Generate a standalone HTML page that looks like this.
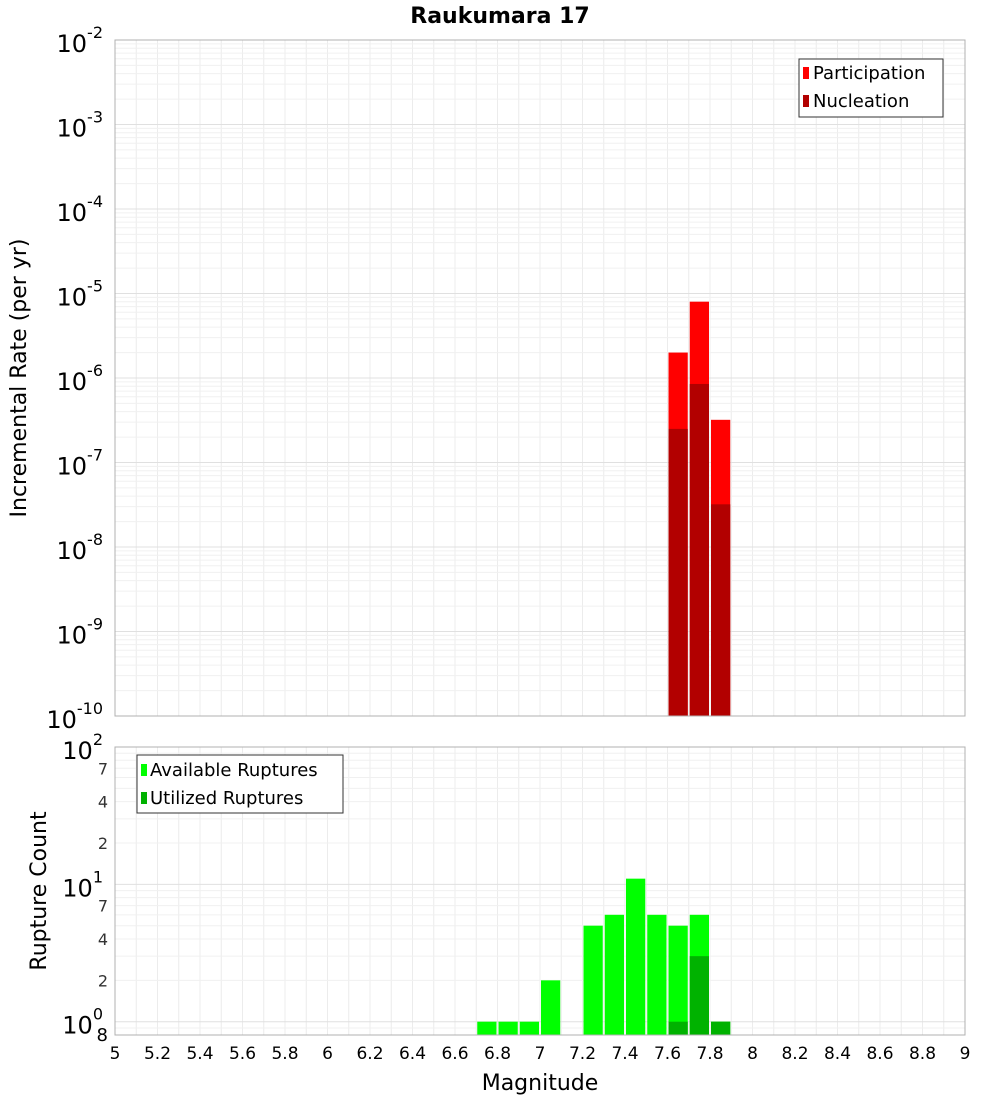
<!DOCTYPE html>
<html><head><meta charset="utf-8"><style>
body{margin:0;background:#fff;width:1000px;height:1100px;overflow:hidden}
svg text{font-family:"DejaVu Sans","Liberation Sans",sans-serif}
</style></head><body>
<svg id="c" width="1000" height="1100"></svg>
<script>
const topCats=[7.65,7.75,7.85];
const participation=[2e-6,8e-6,3.2e-7];
const nucleation=[2.5e-7,8.5e-7,3.2e-8];
const botCats=[6.75,6.85,6.95,7.05,7.25,7.35,7.45,7.55,7.65,7.75,7.85];
const available=[1,1,1,2,5,6,11,6,5,6,1];
const utilCats=[7.65,7.75,7.85];
const utilized=[1,3,1];
const xTicks=["5","5.2","5.4","5.6","5.8","6","6.2","6.4","6.6","6.8","7","7.2","7.4","7.6","7.8","8","8.2","8.4","8.6","8.8","9"];
const topExps=[-10,-9,-8,-7,-6,-5,-4,-3,-2];
const botMinor=[2,4,7];

const NS="http://www.w3.org/2000/svg",svg=document.getElementById('c');
function el(t,a,p){const e=document.createElementNS(NS,t);for(const k in a)e.setAttribute(k,a[k]);(p||svg).appendChild(e);return e;}
const X0=115,X1=965;
const x=v=>X0+(v-5)/4*(X1-X0);
const T0=40,T1=716;
const yT=v=>T1-(Math.log10(v)+10)/8*(T1-T0);
const B0=747,B1=1035;
const bLo=Math.log10(0.8),bHi=2;
const yB=v=>B1-(Math.log10(v)-bLo)/(bHi-bLo)*(B1-B0);

// grids
const gT=el('g',{});
const gB=el('g',{});
for(let i=0;i<=40;i++){const xv=x(5+i*0.1);
 el('line',{x1:xv,x2:xv,y1:T0,y2:T1,stroke:'#ececec','stroke-width':1},gT);
 el('line',{x1:xv,x2:xv,y1:B0,y2:B1,stroke:'#ececec','stroke-width':1},gB);}
for(let e=-10;e<-2;e++)for(let m=1;m<10;m++){const yv=yT(m*Math.pow(10,e));
 el('line',{x1:X0,x2:X1,y1:yv,y2:yv,stroke:m==1?'#e0e0e0':'#f0f0f0','stroke-width':1},gT);}
for(let e=-1;e<2;e++)for(let m=1;m<10;m++){const v=m*Math.pow(10,e);if(v<0.8)continue;const yv=yB(v);
 el('line',{x1:X0,x2:X1,y1:yv,y2:yv,stroke:m==1?'#e0e0e0':'#f0f0f0','stroke-width':1},gB);}

// bars
const bw=x(5.1)-x(5)-2;
topCats.forEach((c,i)=>{
 const r=el('rect',{x:x(c-0.05)+1,y:yT(participation[i]),width:bw,height:T1-yT(participation[i]),fill:'#ff0000'});
 
 const n=el('rect',{x:x(c-0.05)+1,y:yT(nucleation[i]),width:bw,height:T1-yT(nucleation[i]),fill:'#b20000'});
 
});
botCats.forEach((c,i)=>{
 const r=el('rect',{x:x(c-0.05)+1,y:yB(available[i]),width:bw,height:B1-yB(available[i]),fill:'#00ff00'});
 
});
utilCats.forEach((c,i)=>{
 const r=el('rect',{x:x(c-0.05)+1,y:yB(utilized[i]),width:bw,height:B1-yB(utilized[i]),fill:'#00b200'});
 
});
// frames
el('rect',{x:X0,y:T0,width:X1-X0,height:T1-T0,fill:'none',stroke:'#b0b0b0'});
el('rect',{x:X0,y:B0,width:X1-X0,height:B1-B0,fill:'none',stroke:'#b0b0b0'});

// top y ticks
topExps.forEach(e=>{const yv=yT(Math.pow(10,e));
 const t=el('text',{x:103,y:yv+12,'text-anchor':'end','font-size':24,fill:'#000'});
 
 t.textContent='10';
 const s=el('tspan',{dy:-14,'font-size':16},t);s.textContent=String(e);});
// bottom y ticks
[0,1,2].forEach(e=>{const yv=yB(Math.pow(10,e));
 const t=el('text',{x:103,y:yv+12,'text-anchor':'end','font-size':24,fill:'#000'});
 
 t.textContent='10';
 const s=el('tspan',{dy:-14,'font-size':16},t);s.textContent=String(e);});
[0,1].forEach(e=>botMinor.forEach(m=>{const yv=yB(m*Math.pow(10,e));
 const t=el('text',{x:108,y:yv+6,'text-anchor':'end','font-size':16,fill:'#333'});
 
 t.textContent=String(m);}));
{const t=el('text',{x:108,y:1041,'text-anchor':'end','font-size':18,fill:'#000'});
 t.textContent='8';}
// x ticks
xTicks.forEach(s=>{const t=el('text',{x:x(parseFloat(s)),y:1059,'text-anchor':'middle','font-size':17,fill:'#000'});
 t.textContent=s;});
</script>
<svg width="1000" height="1100" style="position:absolute;left:0;top:0">
<text x="500" y="23" text-anchor="middle" font-size="22" font-weight="bold">Raukumara 17</text>
<text x="540" y="1090" text-anchor="middle" font-size="22">Magnitude</text>
<text transform="translate(26,378) rotate(-90)" text-anchor="middle" font-size="22">Incremental Rate (per yr)</text>
<text transform="translate(46,891) rotate(-90)" text-anchor="middle" font-size="22">Rupture Count</text>
<g>
<rect x="799" y="59" width="144" height="58" fill="#fff" stroke="#333"/>
<rect x="803" y="67" width="6" height="12" fill="#ff0000"/>
<text x="813" y="79" font-size="18">Participation</text>
<rect x="803" y="95" width="6" height="12" fill="#b20000"/>
<text x="813" y="107" font-size="18">Nucleation</text>
</g>
<g>
<rect x="137" y="755" width="206" height="58" fill="#fff" stroke="#333"/>
<rect x="141" y="764" width="6" height="12" fill="#00ff00"/>
<text x="150" y="776" font-size="18">Available Ruptures</text>
<rect x="141" y="792" width="6" height="12" fill="#00b200"/>
<text x="150" y="804" font-size="18">Utilized Ruptures</text>
</g>
</svg>
</body></html>
